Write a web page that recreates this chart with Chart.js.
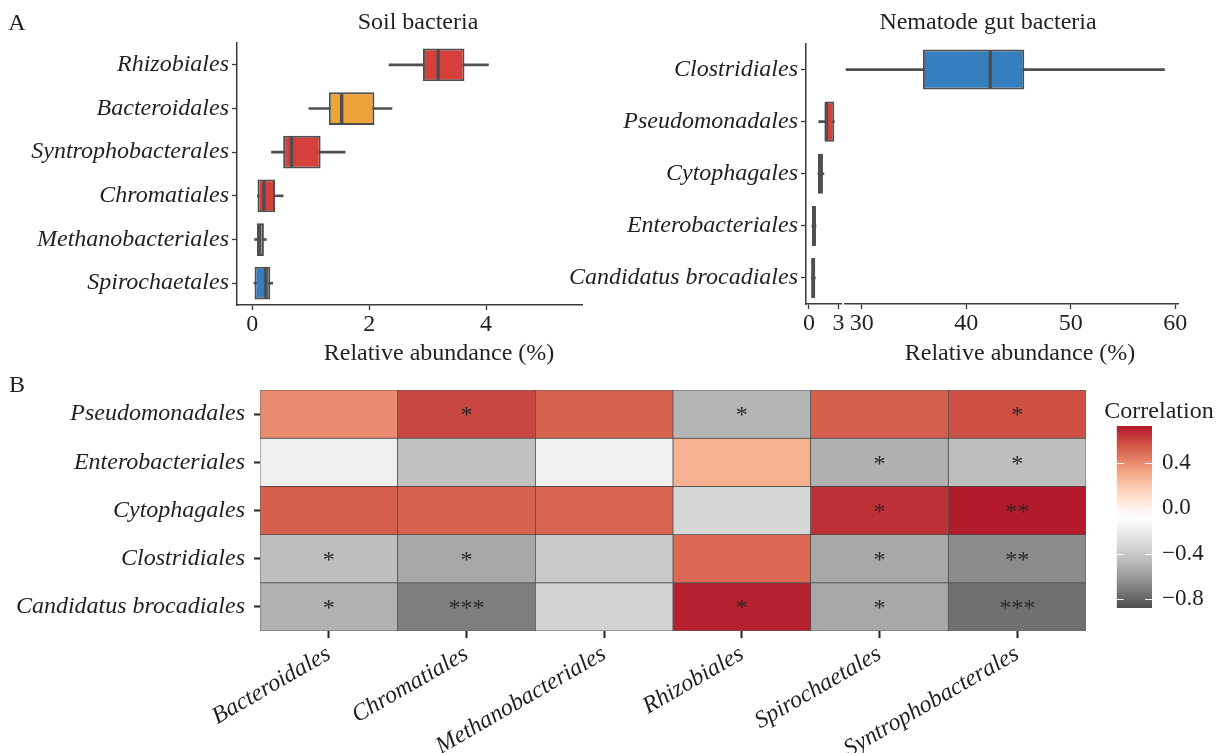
<!DOCTYPE html>
<html>
<head>
<meta charset="utf-8">
<script src="https://cdn.jsdelivr.net/npm/chart.js@4.4.1/dist/chart.umd.min.js"></script>
<style>
  html, body { margin: 0; padding: 0; background: #fff; }
  #fig { position: relative; width: 1224px; height: 753px; overflow: hidden;
         font-family: 'Liberation Serif', 'Times New Roman', serif; color: #231f20; }
  #fig canvas { position: absolute; }
  .txt { position: absolute; font-size: 24px; line-height: 1; white-space: nowrap;
         transform: translate(-50%, -50%); }
</style>
</head>
<body>
<div id="fig">
  <canvas id="soil" width="600" height="370" style="left:0px;top:0px"></canvas>
  <canvas id="gutLow" width="320" height="370" style="left:540px;top:0px"></canvas>
  <canvas id="gutHigh" width="394" height="370" style="left:830px;top:0px"></canvas>
  <canvas id="heat" width="1090" height="373" style="left:0px;top:380px"></canvas>
  <canvas id="scaleBar" width="134" height="250" style="left:1090px;top:380px"></canvas>

  <div class="txt" style="left:17px;top:22px">A</div>
  <div class="txt" style="left:418px;top:21px">Soil bacteria</div>
  <div class="txt" style="left:988px;top:21px">Nematode gut bacteria</div>
  <div class="txt" style="left:439px;top:352px">Relative abundance (%)</div>
  <div class="txt" style="left:1020px;top:352px">Relative abundance (%)</div>
  <div class="txt" style="left:17px;top:384px">B</div>
  <div class="txt" style="left:1159px;top:410px">Correlation</div>
</div>

<script>
// ---- Soil bacteria: relative abundance (%) box statistics ----
const soilTaxa   = ['Rhizobiales', 'Bacteroidales', 'Syntrophobacterales', 'Chromatiales', 'Methanobacteriales', 'Spirochaetales'];
const soilMin    = [2.34, 0.97, 0.33, 0.09, 0.04, 0.03];
const soilQ1     = [2.92, 1.31, 0.53, 0.09, 0.08, 0.04];
const soilMedian = [3.18, 1.53, 0.67, 0.20, 0.12, 0.23];
const soilQ3     = [3.63, 2.09, 1.17, 0.39, 0.20, 0.31];
const soilMax    = [4.04, 2.39, 1.59, 0.53, 0.24, 0.35];
const soilFill   = ['#d6403a', '#eda337', '#d6403a', '#d6403a', '#4a9bd8', '#357fc0'];
const soilTicks  = [0, 2, 4];

// ---- Nematode gut bacteria: relative abundance (%) box statistics ----
const gutTaxa   = ['Clostridiales', 'Pseudomonadales', 'Cytophagales', 'Enterobacteriales', 'Candidatus brocadiales'];
const gutMin    = [28.5, 0.98, 0.91, 0.30, 0.23];
const gutQ1     = [35.85, 1.60, 0.91, 0.30, 0.23];
const gutMedian = [42.3, 1.77, 1.10, 0.50, 0.43];
const gutQ3     = [45.55, 2.57, 1.42, 0.71, 0.64];
const gutMax    = [58.96, 2.57, 1.52, 0.71, 0.64];
const gutFill   = ['#357fc0', '#d6403a', '#d6403a', '#357fc0', '#357fc0'];
const gutLowTicks  = [0, 3];
const gutHighTicks = [30, 40, 50, 60];

// ---- Correlation between gut orders (rows) and soil orders (columns) ----
const rowTaxa = ['Pseudomonadales', 'Enterobacteriales', 'Cytophagales', 'Clostridiales', 'Candidatus brocadiales'];
const colTaxa = ['Bacteroidales', 'Chromatiales', 'Methanobacteriales', 'Rhizobiales', 'Spirochaetales', 'Syntrophobacterales'];
const corrPseudomonadales   = [0.40, 0.60, 0.52, -0.50, 0.53, 0.57];
const corrEnterobacteriales = [-0.18, -0.44, -0.17, 0.28, -0.52, -0.46];
const corrCytophagales      = [0.53, 0.52, 0.51, -0.33, 0.66, 0.72];
const corrClostridiales     = [-0.46, -0.55, -0.40, 0.50, -0.55, -0.66];
const corrCandidatus        = [-0.51, -0.71, -0.35, 0.70, -0.55, -0.76];
const starsPseudomonadales   = ['', '*', '', '*', '', '*'];
const starsEnterobacteriales = ['', '', '', '', '*', '*'];
const starsCytophagales      = ['', '', '', '', '*', '**'];
const starsClostridiales     = ['*', '*', '', '', '*', '**'];
const starsCandidatus        = ['*', '***', '', '*', '*', '***'];
const corrLow  = -0.88;
const corrHigh = 0.725;
const corrTicks = [0.4, 0.0, -0.4, -0.8];

// ---- shared styling ----
const FONT = "'Liberation Serif', 'Times New Roman', serif";
const INK = '#231f20';
const EDGE = '#4f4f4f';
const AXIS = '#3a3a3a';
const rdgy = ['#b2182b', '#d6604d', '#f4a582', '#fddbc7', '#ffffff', '#e0e0e0', '#bababa', '#878787', '#4d4d4d'];

Chart.defaults.font.family = FONT;
Chart.defaults.color = INK;
Chart.defaults.animation = false;
Chart.defaults.responsive = false;
Chart.defaults.plugins.legend.display = false;
Chart.defaults.plugins.tooltip.enabled = false;

const italic24 = { family: FONT, size: 24, style: 'italic' };
const plain24 = { family: FONT, size: 24 };

function hexRgb(h) {
  return [1, 3, 5].map(i => parseInt(h.slice(i, i + 2), 16));
}
function corrColor(v) {
  let t = (corrHigh - v) / (corrHigh - corrLow) * (rdgy.length - 1);
  t = Math.max(0, Math.min(rdgy.length - 1, t));
  const i = Math.min(Math.floor(t), rdgy.length - 2);
  const f = t - i;
  const a = hexRgb(rdgy[i]), b = hexRgb(rdgy[i + 1]);
  const c = a.map((x, k) => Math.round(x + (b[k] - x) * f));
  return `rgb(${c[0]},${c[1]},${c[2]})`;
}
const fixedTicks = list => scale => { scale.ticks = list.map(v => ({ value: v })); };
const noEndPadding = s => { s.paddingTop = 0; s.paddingBottom = 0; };

// Median line of each box, drawn over the boxes and clipped to the plot area
const medianPlugin = {
  id: 'medianLines',
  afterDatasetsDraw(chart, args, opts) {
    const { ctx, chartArea: a, scales: { x } } = chart;
    const boxes = chart.getDatasetMeta(0).data;
    ctx.save();
    ctx.beginPath();
    ctx.rect(a.left, a.top, a.width, a.height);
    ctx.clip();
    ctx.strokeStyle = EDGE;
    ctx.lineWidth = opts.width;
    opts.values.forEach((m, i) => {
      const bar = boxes[i];
      const px = x.getPixelForValue(m);
      ctx.beginPath();
      ctx.moveTo(px, bar.y - bar.height / 2 + 1);
      ctx.lineTo(px, bar.y + bar.height / 2 - 1);
      ctx.stroke();
    });
    ctx.restore();
  }
};

function boxChart(id, cfg) {
  return new Chart(document.getElementById(id), {
    type: 'bar',
    data: {
      labels: cfg.taxa,
      datasets: [
        {
          data: cfg.taxa.map((_, i) => [cfg.q1[i], cfg.q3[i]]),
          backgroundColor: cfg.fill,
          borderColor: EDGE,
          borderWidth: 2,
          borderSkipped: false,
          barPercentage: cfg.boxShare,
          categoryPercentage: 1,
          grouped: false,
          order: 1
        },
        {
          data: cfg.taxa.map((_, i) => [cfg.lo[i], cfg.hi[i]]),
          backgroundColor: EDGE,
          borderWidth: 0,
          barThickness: 2,
          grouped: false,
          order: 2
        }
      ]
    },
    options: {
      indexAxis: 'y',
      layout: { padding: cfg.padding },
      plugins: { medianLines: { values: cfg.median, width: 3.5 } },
      scales: {
        y: {
          display: cfg.showY,
          offset: true,
          grid: { display: true, drawOnChartArea: false, offset: false,
                  tickLength: 5, tickWidth: 1.3, tickColor: AXIS },
          border: { display: true, color: AXIS, width: 1.5 },
          ticks: { font: italic24, color: INK, padding: 3, autoSkip: false },
          afterFit: s => { s.width = cfg.yWidth; }
        },
        x: {
          type: 'linear',
          min: cfg.xmin,
          max: cfg.xmax,
          afterBuildTicks: fixedTicks(cfg.ticks),
          grid: { display: true, drawOnChartArea: false, tickLength: 5, tickWidth: 1.3, tickColor: AXIS },
          border: { display: true, color: AXIS, width: 1.5 },
          ticks: { font: plain24, color: INK, padding: 0, autoSkip: false, maxRotation: 0 },
          afterFit: s => { s.height = cfg.xHeight; }
        }
      }
    },
    plugins: [medianPlugin]
  });
}

// Panel A, left: soil bacteria
boxChart('soil', {
  taxa: soilTaxa, q1: soilQ1, q3: soilQ3, lo: soilMin, hi: soilMax, median: soilMedian, fill: soilFill,
  boxShare: 0.75, xmin: -0.26, xmax: 5.64, ticks: soilTicks,
  padding: { top: 43, right: 18, left: 0, bottom: 0 }, yWidth: 237, xHeight: 65, showY: true
});

// Panel A, right: nematode gut bacteria on a broken axis (0-3 | 30-60)
boxChart('gutLow', {
  taxa: gutTaxa, q1: gutQ1, q3: gutQ3, lo: gutMin, hi: gutMax, median: gutMedian, fill: gutFill,
  boxShare: 0.77, xmin: -0.3, xmax: 3.25, ticks: gutLowTicks,
  padding: { top: 43.5, right: 19, left: 0, bottom: 0 }, yWidth: 266, xHeight: 66, showY: true
});
boxChart('gutHigh', {
  taxa: gutTaxa, q1: gutQ1, q3: gutQ3, lo: gutMin, hi: gutMax, median: gutMedian, fill: gutFill,
  boxShare: 0.77, xmin: 28.4, xmax: 60.3, ticks: gutHighTicks,
  padding: { top: 43.5, right: 45.5, left: 15, bottom: 0 }, yWidth: 0, xHeight: 66, showY: false
});

// Panel B: correlation heatmap, one floating-bar dataset per row
const corrRows = [corrPseudomonadales, corrEnterobacteriales, corrCytophagales, corrClostridiales, corrCandidatus];
const starRows = [starsPseudomonadales, starsEnterobacteriales, starsCytophagales, starsClostridiales, starsCandidatus];

const starPlugin = {
  id: 'significance',
  afterDatasetsDraw(chart) {
    const { ctx, scales: { x, y } } = chart;
    ctx.save();
    ctx.font = `24px ${FONT}`;
    ctx.fillStyle = '#2a2a2a';
    ctx.textAlign = 'center';
    ctx.textBaseline = 'middle';
    starRows.forEach((row, r) => row.forEach((s, c) => {
      if (s) ctx.fillText(s, x.getPixelForValue(c), y.getPixelForValue(r + 0.5) + 2);
    }));
    ctx.restore();
  }
};

new Chart(document.getElementById('heat'), {
  type: 'bar',
  data: {
    labels: colTaxa,
    datasets: rowTaxa.map((name, r) => ({
      label: name,
      data: colTaxa.map(() => [r, r + 1]),
      backgroundColor: corrRows[r].map(corrColor),
      borderColor: 'rgba(45,45,45,0.75)',
      borderWidth: 0.8,
      borderSkipped: false,
      barPercentage: 1,
      categoryPercentage: 1,
      grouped: false
    }))
  },
  options: {
    layout: { padding: { top: 10, right: 4, left: 0, bottom: 0 } },
    scales: {
      x: {
        offset: true,
        grid: { display: true, drawOnChartArea: false, offset: false, tickLength: 7, tickWidth: 2, tickColor: '#222' },
        border: { display: false },
        ticks: { font: italic24, color: INK, minRotation: 30, maxRotation: 30, padding: 2, autoSkip: false },
        afterFit: s => { s.height = 122; }
      },
      y: {
        type: 'linear',
        reverse: true,
        min: 0,
        max: rowTaxa.length,
        afterBuildTicks: s => { s.ticks = rowTaxa.map((_, i) => ({ value: i + 0.5 })); },
        grid: { display: true, drawOnChartArea: false, tickLength: 6, tickWidth: 2, tickColor: '#222' },
        border: { display: false },
        ticks: { font: italic24, color: INK, padding: 9, autoSkip: false,
                 callback: (v, i) => rowTaxa[i] },
        afterFit: s => { s.width = 260; noEndPadding(s); }
      }
    }
  },
  plugins: [starPlugin]
});

// Colour bar for the correlation scale
const barTickMarks = {
  id: 'barTickMarks',
  afterDatasetsDraw(chart) {
    const { ctx, chartArea: a, scales: { y } } = chart;
    ctx.save();
    ctx.strokeStyle = 'rgba(255,255,255,0.9)';
    ctx.lineWidth = 1;
    corrTicks.forEach(v => {
      const py = Math.round(y.getPixelForValue(v)) + 0.5;
      ctx.beginPath();
      ctx.moveTo(a.left, py); ctx.lineTo(a.left + 7, py);
      ctx.moveTo(a.right - 7, py); ctx.lineTo(a.right, py);
      ctx.stroke();
    });
    ctx.restore();
  }
};

new Chart(document.getElementById('scaleBar'), {
  type: 'bar',
  data: {
    labels: ['Correlation'],
    datasets: [{
      data: [[corrLow, corrHigh]],
      backgroundColor: c => {
        const chart = c.chart;
        if (!chart.chartArea) return rdgy[4];
        const ys = chart.scales.y;
        const g = chart.ctx.createLinearGradient(0, ys.getPixelForValue(corrHigh), 0, ys.getPixelForValue(corrLow));
        rdgy.forEach((col, i) => g.addColorStop(i / (rdgy.length - 1), col));
        return g;
      },
      borderWidth: 0,
      barPercentage: 1,
      categoryPercentage: 1
    }]
  },
  options: {
    layout: { padding: { left: 26.7, top: 46, bottom: 22, right: 0 } },
    scales: {
      x: { display: false },
      y: {
        position: 'right',
        min: corrLow,
        max: corrHigh,
        afterBuildTicks: fixedTicks(corrTicks),
        grid: { display: false, drawTicks: false },
        border: { display: false },
        ticks: {
          font: { family: FONT, size: 23 }, color: INK, padding: 10,
          callback: v => (v < -1e-9 ? '\u2212' : '') + Math.abs(v).toFixed(1)
        },
        afterFit: s => { s.width = 72; noEndPadding(s); }
      }
    }
  },
  plugins: [barTickMarks]
});
</script>
</body>
</html>
